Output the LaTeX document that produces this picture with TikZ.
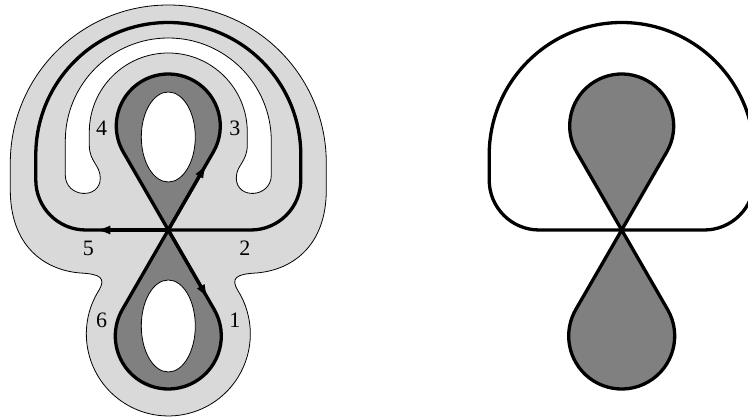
\documentclass[tikz,border=0pt]{standalone}
\usepackage{fontspec}
\setmainfont{Liberation Serif}
\usetikzlibrary{arrows.meta}
\definecolor{band-gray}{RGB}{217,217,217}
\definecolor{lobe-gray}{RGB}{128,128,128}

\begin{document}
\begin{tikzpicture}[x=1pt, y=1pt, font=\fontsize{22}{26}\selectfont,
  thin line/.style={line width=0.8pt},
  thick line/.style={line width=3.3pt},
  flow/.style={thick line, -{Latex[length=15pt, width=9pt]}}]
  \clip (-168.3,-187) rectangle (579.7,230);

  % Bande claire autour de la courbe
  \filldraw[fill=band-gray, draw=black, thin line] (-158,67) -- (-158,40)
    .. controls (-158,-15) and (-125,-40) .. (-88,-43)
    .. controls (-68,-44) and (-62,-48) .. (-69.5,-60.5)
    arc[start angle=148, end angle=392, radius=82]
    .. controls (62,-48) and (68,-44) .. (88,-43)
    .. controls (125,-40) and (158,-15) .. (158,40)
    -- (158,67) arc[start angle=0, end angle=180, radius=158] -- cycle;

  % Fer a cheval blanc
  \filldraw[fill=white, thin line] (-103,89) -- (-103,55)
    .. controls (-103,32) and (-68,30) .. (-68,52)
    .. controls (-68,65) and (-79,68) .. (-79,85)
    -- (-79,98) arc[start angle=180, end angle=0, radius=79]
    -- (79,85) .. controls (79,68) and (68,65) .. (68,52)
    .. controls (68,30) and (103,32) .. (103,55)
    -- (103,89) arc[start angle=0, end angle=180, radius=103] -- cycle;

  % Boucle exterieure et huit (les deux figures)
  \foreach \dx in {0,453.4}{
    \begin{scope}[shift={(\dx,0)}]
      \draw[thick line] (-82.5,0) arc[start angle=270, end angle=180, radius=50]
        -- (-132.5,75) arc[start angle=180, end angle=0, radius=132.5]
        -- (132.5,50) arc[start angle=0, end angle=-90, radius=50] -- cycle;
      \filldraw[fill=lobe-gray, thick line, line join=round]
        (-45.03,78) -- (0,0) -- (45.9,-79.5)
        arc[start angle=30, end angle=-210, radius=53]
        -- (0,0) -- (45.03,78)
        arc[start angle=-30, end angle=210, radius=52] -- cycle;
    \end{scope}
  }

  % Trous blancs
  \filldraw[fill=white, thin line] (0,93) ellipse[x radius=27, y radius=45];
  \filldraw[fill=white, thin line] (0,-96) ellipse[x radius=27, y radius=46];

  % Fleches
  \coordinate (x) at (0,0);
  \coordinate (tip1) at (40,-69.3);
  \coordinate (tip3) at (38.5,66.7);
  \coordinate (tip5) at (-73,0);
  \draw[flow] (x) -- (tip1);
  \draw[flow] (x) -- (tip3);
  \draw[flow] (x) -- (tip5);

  % Numeros des branches
  \node (l1) at (66.7,-90) {1};
  \node (l2) at (76.7,-18.3) {2};
  \node (l3) at (66.7,101.7) {3};
  \node (l4) at (-66.6,101.7) {4};
  \node (l5) at (-80,-18.3) {5};
  \node (l6) at (-66.6,-90) {6};
\end{tikzpicture}
\end{document}
